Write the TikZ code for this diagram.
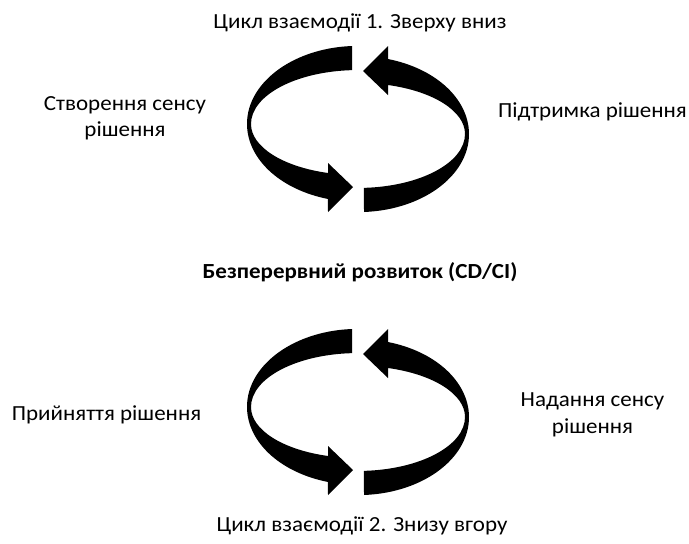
\documentclass[tikz,border=0pt]{standalone}
\usepackage{fontspec}
\setmainfont{Carlito}[FakeStretch=1.07]
\begin{document}
\begin{tikzpicture}[x=1pt,y=-1pt,
  lbl/.style={inner sep=0pt,align=center,anchor=base,font=\fontsize{21.5}{26.7}\selectfont},
  bld/.style={lbl,font=\fontsize{21.5}{26.7}\selectfont\bfseries},
  halfloop/.pic={
    \fill[black] (-6,-83) arc[start angle=266.9,end angle=105.7,x radius=111,y radius=78]
      -- (-30,83) -- (-5,58) -- (-30,34) -- (-30,44)
      arc[start angle=106.28,end angle=180,x radius=107,y radius=51]
      arc[start angle=180,end angle=266.8,x radius=107,y radius=54] -- cycle;
  }]
\useasboundingbox (0,0) rectangle (689,544);
% cycle 1
\pic at (358,129) {halfloop};
\pic[rotate=180] at (358,129) {halfloop};
% cycle 2
\pic at (358,412) {halfloop};
\pic[rotate=180] at (358,412) {halfloop};
\node[lbl] (t1) at (360,28.3) {Цикл взаємодії 1. Зверху вниз};
\node[lbl] (l1) at (125,136.7) {Створення сенсу\\рішення};
\node[lbl] (r1) at (592.5,117) {Підтримка рішення};
\node[bld] (m) at (360,278) {Безперервний розвиток (CD/CI)};
\node[lbl] (l2) at (106.5,420) {Прийняття рішення};
\node[lbl] (r2) at (592.5,433.3) {Надання сенсу\\рішення};
\node[lbl] (t2) at (362,531) {Цикл взаємодії 2. Знизу вгору};
\end{tikzpicture}
\end{document}
